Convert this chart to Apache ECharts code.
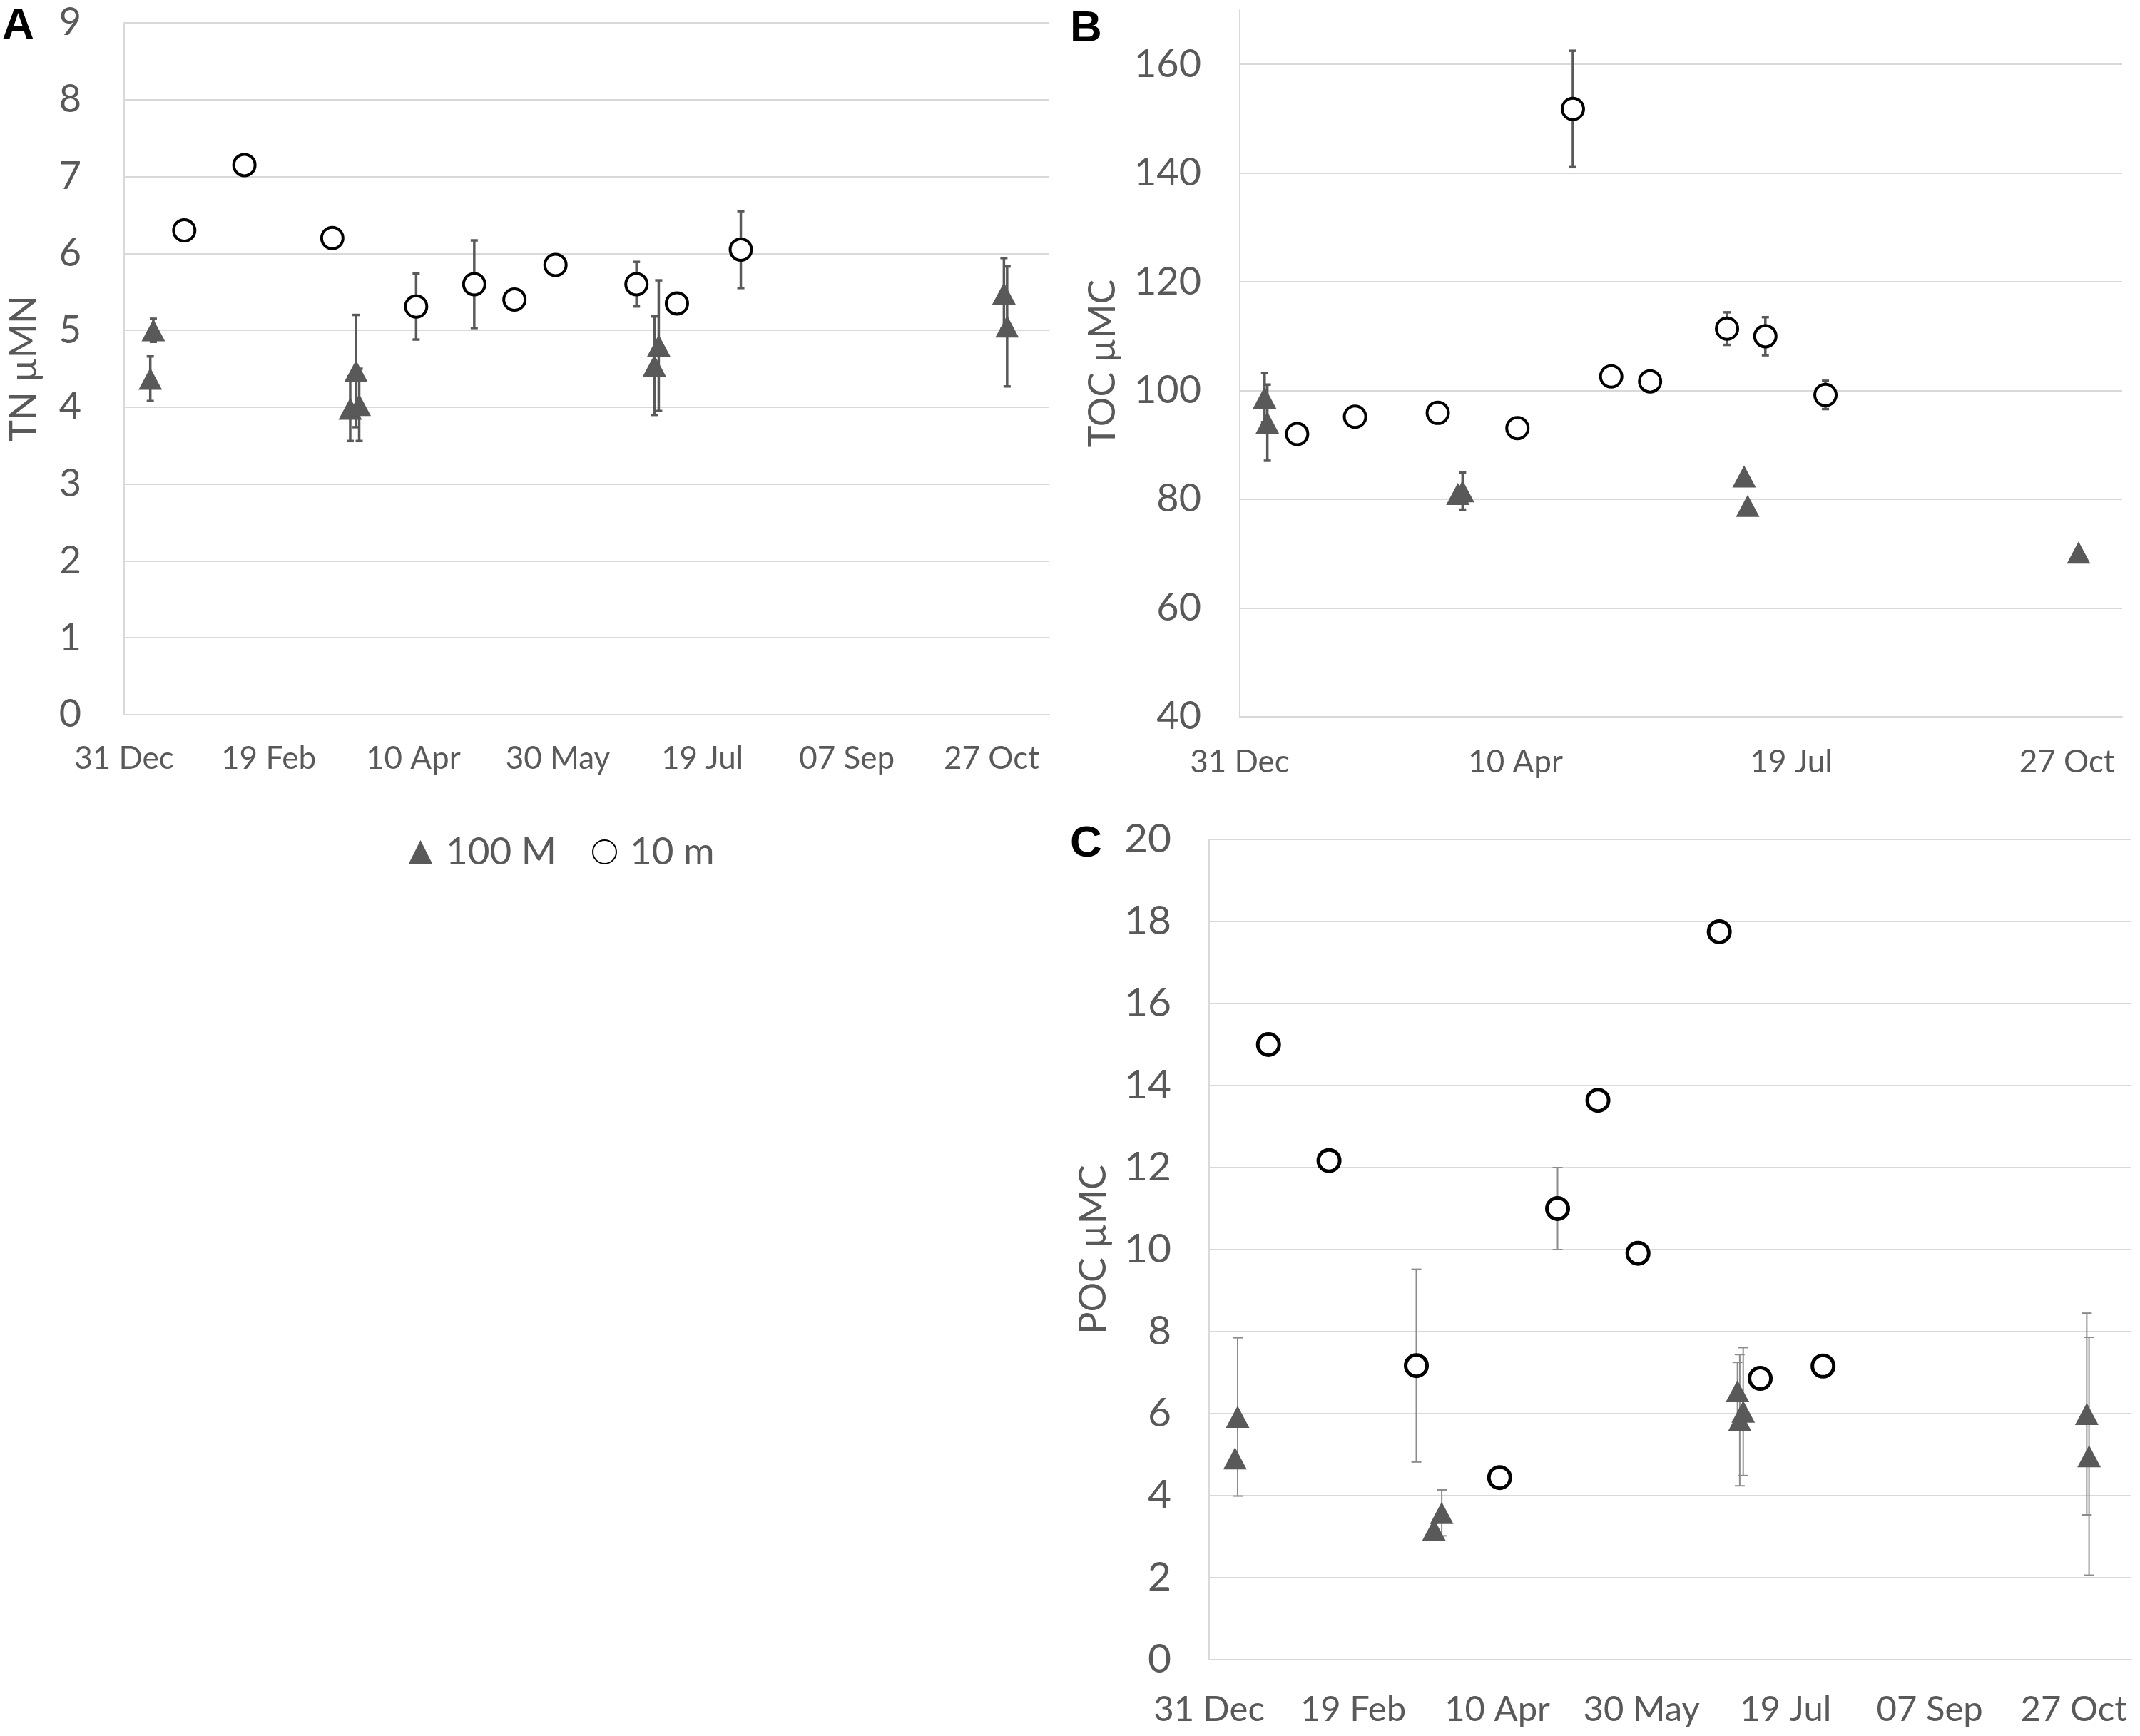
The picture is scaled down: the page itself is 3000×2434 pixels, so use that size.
<!DOCTYPE html>
<html>
<head>
<meta charset="utf-8">
<script src="https://cdn.jsdelivr.net/npm/echarts@6/dist/echarts.min.js"></script>
<style>
html, body { margin: 0; padding: 0; background: #fff; }
#main { width: 3000px; height: 2434px; }
</style>
</head>
<body>
<div id="main"></div>
<script>
// x values are days counted from 31 Dec
var tickDays = [0, 50, 100, 150, 200, 250, 300];
var tickLabels = ['31 Dec', '19 Feb', '10 Apr', '30 May', '19 Jul', '07 Sep', '27 Oct'];

// A: TN (µMN)
var tnDays100 = [10.1, 9.05, 78.2, 80.2, 81.3, 183.4, 184.9, 304.3, 305.4];
var tnVal100  = [5.00, 4.37, 3.98, 4.47, 4.03, 4.54, 4.80, 5.48, 5.05];
var tnErr100  = [0.15, 0.29, 0.42, 0.73, 0.47, 0.64, 0.85, 0.46, 0.78];
var tnDays10  = [20.8, 41.6, 72.0, 101.0, 121.1, 135.0, 149.2, 177.2, 191.2, 213.3];
var tnVal10   = [6.30, 7.15, 6.20, 5.31, 5.60, 5.40, 5.85, 5.60, 5.35, 6.05];
var tnErr10   = [0, 0, 0, 0.43, 0.57, 0, 0, 0.29, 0, 0.50];

// B: TOC (µMC)
var tocDays100 = [9.0, 10.0, 79.1, 80.8, 182.9, 184.2, 304.2];
var tocVal100  = [98.7, 94.1, 81.0, 81.5, 84.2, 78.8, 70.2];
var tocErr100  = [4.5, 7.0, 0, 3.4, 0, 0, 0];
var tocDays10  = [20.8, 41.8, 71.8, 100.7, 120.8, 134.7, 148.8, 176.7, 190.6, 212.4];
var tocVal10   = [92.0, 95.2, 95.9, 93.1, 151.8, 102.6, 101.7, 111.4, 110.0, 99.2];
var tocErr10   = [0, 0, 0, 0, 10.7, 1.2, 0, 3.0, 3.5, 2.6];

// C: POC (µMC)
var pocDays100 = [9.9, 9.0, 78.0, 80.7, 183.3, 185.3, 184.1, 304.5, 305.3];
var pocVal100  = [5.92, 4.91, 3.17, 3.58, 6.55, 6.05, 5.84, 5.99, 4.96];
var pocErr100  = [1.93, 0, 0, 0.56, 0.70, 1.56, 1.60, 2.46, 2.90];
var pocDays10  = [20.6, 41.6, 71.9, 100.8, 120.9, 134.9, 148.8, 177.0, 191.2, 213.0];
var pocVal10   = [15.0, 12.17, 7.17, 4.44, 11.0, 13.64, 9.91, 17.75, 6.86, 7.16];
var pocErr10   = [0, 0, 2.35, 0, 1.0, 0, 0.2, 0, 0, 0];

var textColor = '#595959';
var gridColor = '#d9d9d9';
var font = 'Lato';

function pts(days, vals, errs) {
    return days.map(function (d, i) { return [d, vals[i], errs[i]]; });
}

function dayLabel(v) {
    var i = tickDays.indexOf(v);
    return i >= 0 ? tickLabels[i] : '';
}

// error bars drawn through the axes of the grid
function errBars(color, width, cap) {
    return function (params, api) {
        var x = api.value(0), y = api.value(1), e = api.value(2);
        if (!e) return { type: 'group', children: [] };
        var top = api.coord([x, y + e]);
        var bot = api.coord([x, y - e]);
        var st = { stroke: color, lineWidth: width };
        return {
            type: 'group',
            children: [
                { type: 'line', shape: { x1: top[0], y1: top[1], x2: bot[0], y2: bot[1] }, style: st },
                { type: 'line', shape: { x1: top[0] - cap, y1: top[1], x2: top[0] + cap, y2: top[1] }, style: st },
                { type: 'line', shape: { x1: bot[0] - cap, y1: bot[1], x2: bot[0] + cap, y2: bot[1] }, style: st }
            ]
        };
    };
}

function xAxis(gi, step, size, margin) {
    return {
        type: 'value', gridIndex: gi, min: 0, max: 320, interval: step,
        axisLine: { show: true, lineStyle: { color: gridColor, width: 2 } },
        axisTick: { show: false },
        splitLine: { show: false },
        axisLabel: {
            color: textColor, fontSize: size, fontFamily: font, margin: margin,
            showMaxLabel: false, formatter: dayLabel
        }
    };
}

function yAxis(gi, min, max, step, name, size, margin, nameGap, showTop) {
    return {
        type: 'value', gridIndex: gi, min: min, max: max, interval: step,
        name: name, nameLocation: 'middle', nameGap: nameGap,
        nameTextStyle: { color: textColor, fontSize: 52, fontFamily: font },
        axisLine: { show: true, lineStyle: { color: gridColor, width: 2 } },
        axisTick: { show: false },
        splitLine: { show: true, showMaxLine: showTop, lineStyle: { color: gridColor, width: 2 } },
        axisLabel: { color: textColor, fontSize: size, fontFamily: font, margin: margin, showMaxLabel: showTop }
    };
}

function panel(gi, d100, d10, errStyle, ring) {
    return [
        {
            type: 'custom', xAxisIndex: gi, yAxisIndex: gi, z: 1,
            renderItem: errBars(errStyle[0], errStyle[1], errStyle[2]),
            encode: { x: 0, y: 1 }, data: d100
        },
        {
            type: 'custom', xAxisIndex: gi, yAxisIndex: gi, z: 1,
            renderItem: errBars(errStyle[0], errStyle[1], errStyle[2]),
            encode: { x: 0, y: 1 }, data: d10
        },
        {
            name: '100 M', type: 'scatter', xAxisIndex: gi, yAxisIndex: gi, z: 3,
            symbol: 'triangle', symbolSize: [33, 31],
            itemStyle: { color: '#595959', opacity: 1 },
            data: d100
        },
        {
            name: '10 m', type: 'scatter', xAxisIndex: gi, yAxisIndex: gi, z: 4,
            symbol: 'circle', symbolSize: 30,
            itemStyle: { color: '#ffffff', borderColor: '#000000', borderWidth: ring, opacity: 1 },
            data: d10
        }
    ];
}

var chart = echarts.init(document.getElementById('main'));
var darkErr = ['#595959', 3.5, 5];
var thinErr = ['#8c8c8c', 2, 7];
var letterStyle = { fontSize: 62, fontWeight: 'bold', fontFamily: 'Liberation Sans', fill: '#000' };

var option = {
    backgroundColor: '#ffffff',
    animation: false,
    grid: [
        { left: 174, right: 1529, top: 32, bottom: 1432 },
        { left: 1738, right: 25, top: 14, bottom: 1429 },
        { left: 1695, right: 12, top: 1177, bottom: 107 }
    ],
    xAxis: [
        xAxis(0, 50, 44, 40),
        xAxis(1, 100, 44, 42),
        xAxis(2, 50, 49, 46)
    ],
    yAxis: [
        yAxis(0, 0, 9, 1, 'TN µMN', 54, 60, 114, true),
        yAxis(1, 40, 170, 20, 'TOC µMC', 54, 54, 166, false),
        yAxis(2, 0, 20, 2, 'POC µMC', 57, 53, 136, true)
    ],
    legend: {
        data: ['100 M', '10 m'],
        left: 568, top: 1163,
        itemWidth: 33, itemHeight: 33, itemGap: 50,
        textStyle: { color: textColor, fontSize: 53, fontFamily: font, padding: [0, 0, 0, 14] }
    },
    graphic: [
        { type: 'text', left: 3, top: 6, style: Object.assign({ text: 'A' }, letterStyle) },
        { type: 'text', left: 1500, top: 10, style: Object.assign({ text: 'B' }, letterStyle) },
        { type: 'text', left: 1500, top: 1153, style: Object.assign({ text: 'C' }, letterStyle) }
    ],
    series: [].concat(
        panel(0, pts(tnDays100, tnVal100, tnErr100), pts(tnDays10, tnVal10, tnErr10), darkErr, 4),
        panel(1, pts(tocDays100, tocVal100, tocErr100), pts(tocDays10, tocVal10, tocErr10), darkErr, 4),
        panel(2, pts(pocDays100, pocVal100, pocErr100), pts(pocDays10, pocVal10, pocErr10), thinErr, 5)
    )
};

chart.setOption(option);
</script>
</body>
</html>
